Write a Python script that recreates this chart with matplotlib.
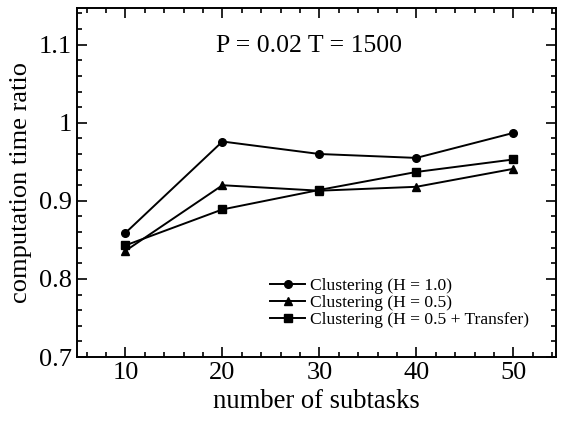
import matplotlib
matplotlib.use("Agg")
import matplotlib.pyplot as plt
from matplotlib.ticker import MultipleLocator

# данные
subtasks = [10, 20, 30, 40, 50]
h10 = [0.859, 0.976, 0.960, 0.955, 0.987]
h05 = [0.836, 0.920, 0.913, 0.918, 0.941]
h05_transfer = [0.843, 0.889, 0.914, 0.937, 0.953]
labels = ["Clustering (H = 1.0)", "Clustering (H = 0.5)", "Clustering (H = 0.5 + Transfer)"]

plt.rcParams["font.family"] = ["Liberation Serif", "DejaVu Serif"]

fig = plt.figure(figsize=(5.61, 4.21), dpi=100)
ax = fig.add_axes([77 / 561, 64 / 421, (556 - 77) / 561, (357 - 8) / 421])

ax.plot(subtasks, h10, "k-", marker="o", ms=5.5, lw=1.4, label=labels[0])
ax.plot(subtasks, h05, "k-", marker="^", ms=6, lw=1.4, label=labels[1])
ax.plot(subtasks, h05_transfer, "k-", marker="s", ms=5.5, lw=1.4, label=labels[2])

ax.set_xlim(5, 54.4)
ax.set_ylim(0.7, 1.147)
ax.xaxis.set_major_locator(MultipleLocator(10))
ax.xaxis.set_minor_locator(MultipleLocator(2))
ax.yaxis.set_minor_locator(MultipleLocator(0.02))
ax.set_yticks([0.7, 0.8, 0.9, 1.0, 1.1])
ax.set_yticklabels(["0.7", "0.8", "0.9", "1", "1.1"])

ax.tick_params(which="both", direction="in", top=True, right=True, labelsize=19, width=1.2)
ax.tick_params(which="major", length=7)
ax.tick_params(which="minor", length=3.5)
for s in ax.spines.values():
    s.set_linewidth(1.4)

ax.set_xlabel("number of subtasks", fontsize=19.2, labelpad=4)
ax.set_ylabel("computation time ratio", fontsize=19, labelpad=5)

ax.text(0.485, 0.89, "P = 0.02 T = 1500", transform=ax.transAxes,
        ha="center", va="center", fontsize=18.5)

ax.legend(loc="upper left", bbox_to_anchor=(0.403, 0.228), frameon=False, fontsize=12.6,
          handlelength=2.0, handletextpad=0.3, labelspacing=0.05,
          borderpad=0, borderaxespad=0)

fig.savefig("out.png", dpi=100)
